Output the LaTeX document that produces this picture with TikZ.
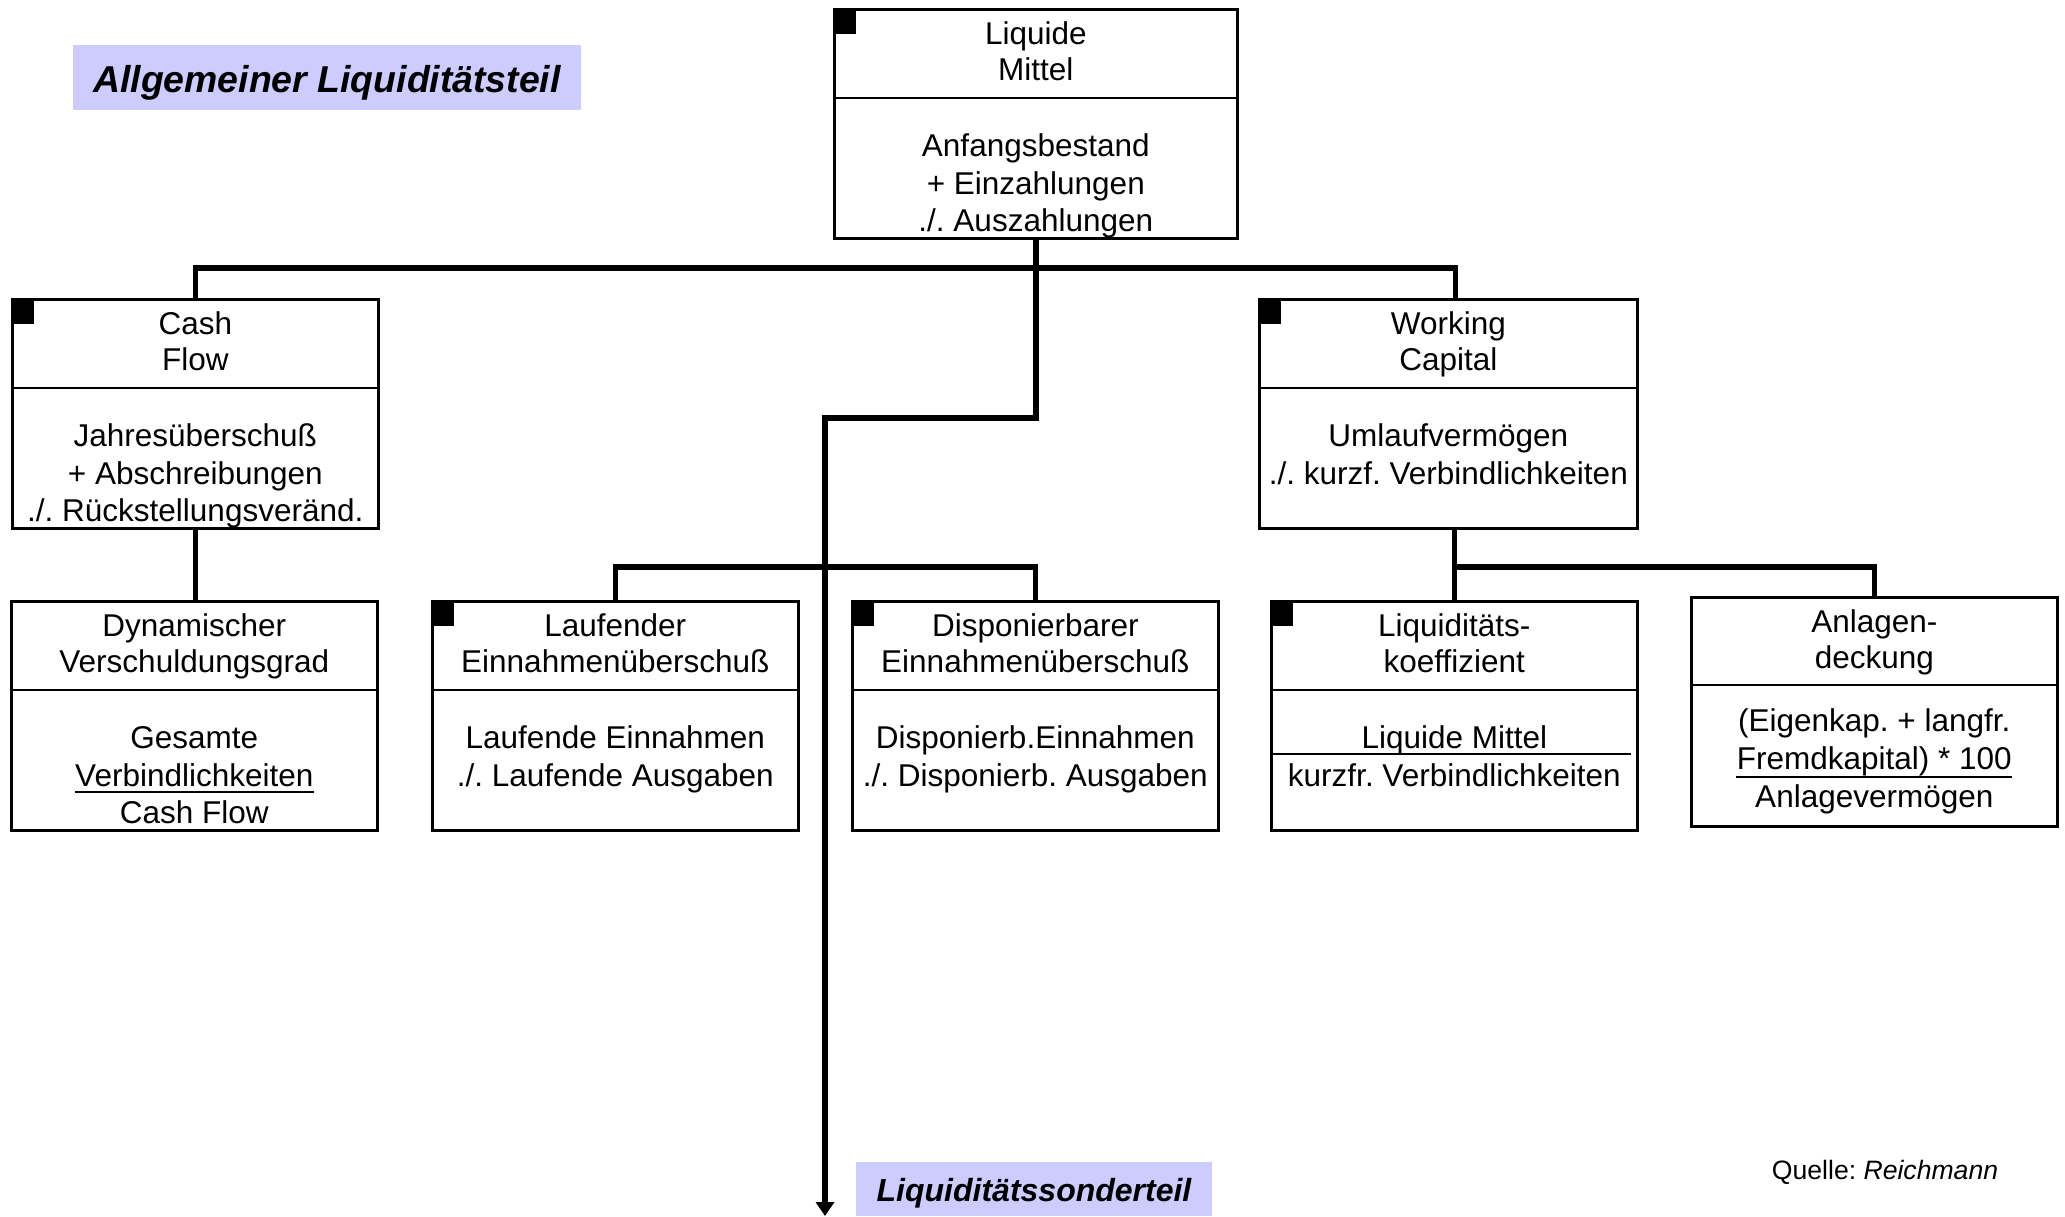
\documentclass[tikz,border=0pt]{standalone}
\usepackage{fontspec}
\setmainfont{Liberation Sans}
\usetikzlibrary{calc,arrows.meta}
\definecolor{lav}{HTML}{CCCCFF}
\frenchspacing
\newcommand\divline[2]{\draw[bd] ($(#1.north west)+(0,#2)$) -- ($(#1.north east)+(0,#2)$);}
\newcommand\tline[4]{\node[tx] (#1) at ($(#2.north)+(0,#3)$) {#4};}
\begin{document}
\frenchspacing
\begin{tikzpicture}[x=0.5pt,y=-0.5pt,
  box/.style={draw, line width=1.3pt, minimum height=114.5pt, inner sep=0pt, anchor=north west},
  bd/.style={line width=1.3pt},
  ul/.style={line width=1.2pt},
  conn/.style={line width=2.8pt},
  tx/.style={font=\fontsize{15.75}{19}\selectfont, anchor=base, inner sep=0pt},
  sq/.style={fill=black, minimum width=11.5pt, minimum height=13pt, inner sep=0pt, anchor=north west},
  band/.style={fill=lav, inner sep=0pt, anchor=north west},
]
\useasboundingbox (1,1) rectangle (2066,1217);

% ---------- boxes ----------
\node[box, minimum width=201.5pt] (lm) at (834,9) {};
\node[box, minimum width=183pt] (cf) at (12,299) {};
\node[box, minimum width=189pt] (wc) at (1259,299) {};
\node[box, minimum width=183pt] (dy) at (11,601) {};
\node[box, minimum width=183pt] (lf) at (432,601) {};
\node[box, minimum width=183pt] (dp) at (852,601) {};
\node[box, minimum width=183pt] (lk) at (1271,601) {};
\node[box, minimum width=183pt] (ad) at (1691,597) {};

% ---------- connectors ----------
\coordinate (bend) at (826,419);
\coordinate (arrowend) at (826,1217);
\draw[conn] (cf.north) -- ++(0,-30) -| ($(wc.north)+(7,0)$);
\draw[conn, -{Triangle[width=9pt,length=7pt]}] (lm.south) |- (bend) -- (arrowend);
\draw[conn] (cf.south) -- (cf.south |- dy.north);
\draw[conn] (lf.north) -- ++(0,-33) -| (dp.north);
\draw[conn] (lk.north |- wc.south) -- (lk.north);
\draw[conn] (lk.north) -- ++(0,-33) -| (ad.north);

% ---------- dividers & squares ----------
\divline{lm}{90}
\divline{cf}{90}
\divline{wc}{90}
\divline{dy}{90}
\divline{lf}{90}
\divline{dp}{90}
\divline{lk}{90}
\divline{ad}{89}
\node[sq] (lm-sq) at (lm.north west) {};
\node[sq] (cf-sq) at (cf.north west) {};
\node[sq] (wc-sq) at (wc.north west) {};
\node[sq] (lf-sq) at (lf.north west) {};
\node[sq] (dp-sq) at (dp.north west) {};
\node[sq] (lk-sq) at (lk.north west) {};

% ---------- texts ----------
\tline{lm-t1}{lm}{36}{Liquide}
\tline{lm-t2}{lm}{72}{Mittel}
\tline{lm-b1}{lm}{148}{Anfangsbestand}
\tline{lm-b2}{lm}{186}{+ Einzahlungen}
\tline{lm-b3}{lm}{223}{./. Auszahlungen}

\tline{cf-t1}{cf}{36}{Cash}
\tline{cf-t2}{cf}{72}{Flow}
\tline{cf-b1}{cf}{148}{Jahresüberschuß}
\tline{cf-b2}{cf}{186}{+ Abschreibungen}
\tline{cf-b3}{cf}{223}{./. Rückstellungsveränd.}

\tline{wc-t1}{wc}{36}{Working}
\tline{wc-t2}{wc}{72}{Capital}
\tline{wc-b1}{wc}{148}{Umlaufvermögen}
\tline{wc-b2}{wc}{186}{./. kurzf. Verbindlichkeiten}

\tline{dy-t1}{dy}{36}{Dynamischer}
\tline{dy-t2}{dy}{72}{Verschuldungsgrad}
\tline{dy-b1}{dy}{148}{Gesamte}
\tline{dy-b2}{dy}{186}{Verbindlichkeiten}
\tline{dy-b3}{dy}{223}{Cash Flow}
\draw[ul] ($(dy-b2.base west)+(0,6)$) -- ($(dy-b2.base east)+(0,6)$);

\tline{lf-t1}{lf}{36}{Laufender}
\tline{lf-t2}{lf}{72}{Einnahmenüberschuß}
\tline{lf-b1}{lf}{148}{Laufende Einnahmen}
\tline{lf-b2}{lf}{186}{./. Laufende Ausgaben}

\tline{dp-t1}{dp}{36}{Disponierbarer}
\tline{dp-t2}{dp}{72}{Einnahmenüberschuß}
\tline{dp-b1}{dp}{148}{Disponierb.Einnahmen}
\tline{dp-b2}{dp}{186}{./. Disponierb. Ausgaben}

\tline{lk-t1}{lk}{36}{Liquiditäts-}
\tline{lk-t2}{lk}{72}{koeffizient}
\tline{lk-b1}{lk}{148}{Liquide Mittel}
\tline{lk-b2}{lk}{186}{kurzfr. Verbindlichkeiten}
\draw[ul, line width=1.4pt] ($(lk.north west)+(3,154)$) -- ($(lk.north east)+(-8,154)$);

\tline{ad-t1}{ad}{36}{Anlagen-}
\tline{ad-t2}{ad}{72}{deckung}
\tline{ad-b1}{ad}{135}{(Eigenkap. + langfr.}
\tline{ad-b2}{ad}{173}{Fremdkapital) * 100}
\tline{ad-b3}{ad}{211}{Anlagevermögen}
\draw[ul] ($(ad-b2.base west)+(0,8)$) -- ($(ad-b2.base east)+(0,8)$);

% ---------- labels ----------
\node[band, minimum width=254pt, minimum height=32.5pt] (allg) at (74,46) {};
\node[tx, font=\fontsize{18.7}{22}\selectfont\bfseries\itshape] (allg-t) at (328,93) {Allgemeiner Liquiditätsteil};
\node[band, minimum width=178pt, minimum height=27pt] (sond) at (857,1163) {};
\node[tx, font=\fontsize{16}{19}\selectfont\bfseries\itshape] (sond-t) at (1035,1202) {Liquiditätssonderteil};
\node[tx, font=\fontsize{13.3}{16}\selectfont] (quelle) at (1886,1180) {Quelle: \textit{Reichmann}};
\end{tikzpicture}
\end{document}
